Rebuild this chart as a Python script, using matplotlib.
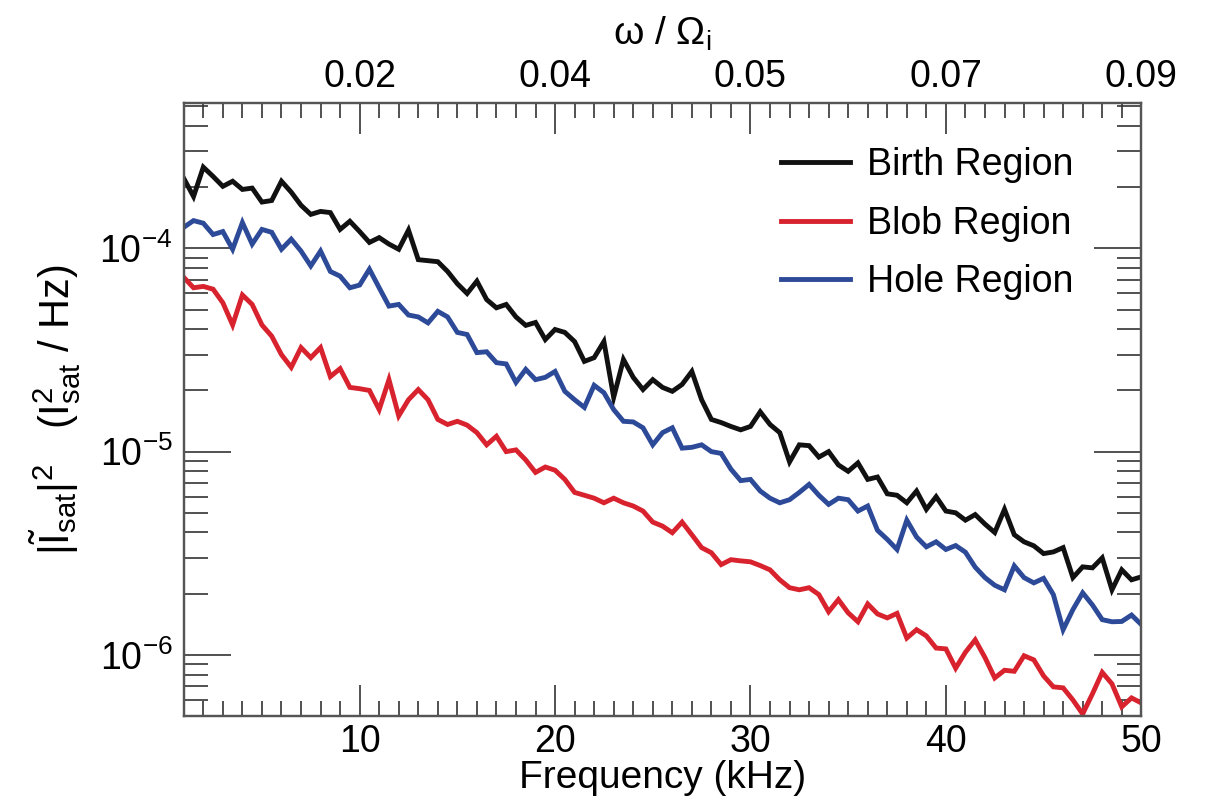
import numpy as np
import matplotlib.pyplot as plt
from matplotlib.ticker import MultipleLocator, LogLocator, NullFormatter

plt.rcParams['font.family'] = 'Liberation Sans'
plt.rcParams['mathtext.fontset'] = 'custom'
plt.rcParams['mathtext.rm'] = 'Liberation Sans'
plt.rcParams['mathtext.it'] = 'Liberation Sans:italic'
plt.rcParams['mathtext.sf'] = 'Liberation Sans'

# frequency grid (kHz), 0.5 kHz steps from 1 to 50
freq = np.arange(1.0, 50.01, 0.5)

# power spectra, in units of 1e-6 I_sat^2 / Hz
birth = [221, 180, 251, 226, 202, 214, 195, 198, 169, 172, 214, 189, 163, 147, 152, 150, 124, 136,
         121, 107, 113, 105, 99, 123, 88, 87, 86, 77, 67, 60, 69, 56, 51, 53,
         46, 41.8, 43.2, 35.6, 39.9, 38.6, 34.8, 27.8, 29, 34.8, 18.5, 28.4, 23.2, 20.2, 22.6, 20.7,
         19.8, 21.4, 24.8, 18, 14.4, 13.9, 13.3, 12.8, 13.3, 15.7, 13.6, 12.4, 8.9, 10.8, 10.7, 9.4, 10.0,
         8.6, 8.0, 8.8, 7.3, 7.5, 6.2, 6.1, 5.6, 6.4, 5.2, 6.0, 5.1, 5.0, 4.6, 4.9, 4.4, 4.0,
         5.2, 3.9, 3.6, 3.44, 3.15, 3.21, 3.37, 2.4, 2.71, 2.68, 3.0, 2.09, 2.62, 2.34, 2.42]

blob = [72, 64, 65, 63, 54, 42, 59, 53, 42, 37, 30, 26, 32.5, 29, 32.5, 23.4, 25.6, 20.7,
        20.4, 20, 16.1, 22.6, 15.0, 18, 20.2, 18, 14.4, 13.6, 14.1, 13.5, 12.4, 10.8, 11.9, 10.0,
        10.2, 9.1, 7.9, 8.4, 8.1, 7.3, 6.3, 6.1, 5.9, 5.6, 5.9, 5.6, 5.4, 5.1, 4.5, 4.3,
        3.99, 4.5, 3.9, 3.37, 3.18, 2.78, 2.94, 2.9, 2.87, 2.75, 2.62, 2.34, 2.14, 2.09, 2.14, 1.98,
        1.63, 1.87, 1.61, 1.455, 1.78, 1.59, 1.52, 1.6, 1.21, 1.33, 1.24, 1.08, 1.07, 0.86, 1.03, 1.185, 0.97, 0.77,
        0.84, 0.83, 0.99, 0.945, 0.788, 0.696, 0.688, 0.60, 0.512, 0.643, 0.82, 0.72, 0.555, 0.614, 0.58]

hole = [127, 137, 133, 117, 121, 99, 134, 105, 124, 120, 99, 111, 97, 82, 97, 77, 73, 64,
        66, 79, 64, 52, 53, 47, 46, 43, 49, 46, 38.6, 37.7, 30.7, 31, 27.4, 27,
        21.9, 25.4, 22.6, 23.2, 24.8, 19.8, 18, 16.5, 21.2, 19.5, 16.1, 14.1, 14.0, 13.1, 10.8, 12.4,
        13.1, 10.4, 10.5, 10.8, 10.0, 9.8, 8.2, 7.2, 7.3, 6.4, 5.9, 5.6, 5.8, 6.3, 6.9, 6.1, 5.5,
        5.9, 5.8, 5.1, 5.4, 4.1, 3.7, 3.3, 4.6, 3.8, 3.4, 3.6, 3.3, 3.45, 3.2, 2.7, 2.4, 2.2,
        2.09, 2.74, 2.4, 2.26, 2.38, 1.98, 1.33, 1.67, 2.02, 1.76, 1.49, 1.455, 1.46, 1.57, 1.41]

series = [('Birth Region', birth, '#111111'),
          ('Blob Region', blob, '#d8232f'),
          ('Hole Region', hole, '#2d4a98')]

freq_ticks = [10, 20, 30, 40, 50]
omega_labels = ['0.02', '0.04', '0.05', '0.07', '0.09']

fig = plt.figure(figsize=(12.09, 8.10), dpi=100)
ax = fig.add_axes([0.152, 0.116, 0.792, 0.757])

for name, vals, col in series:
    ax.plot(freq, np.array(vals) * 1e-6, color=col, lw=3.5, label=name,
            solid_joinstyle='miter')

ax.set_yscale('log')
ax.set_xlim(1, 50)
ax.set_ylim(5e-7, 5.2e-4)

ax.set_xticks(freq_ticks)
ax.xaxis.set_minor_locator(MultipleLocator(1))
ax.yaxis.set_major_locator(LogLocator(base=10))
ax.yaxis.set_minor_locator(LogLocator(base=10, subs=np.arange(2, 10)))
ax.yaxis.set_minor_formatter(NullFormatter())

tick_col = '#333333'
ax.tick_params(axis='x', which='major', direction='in', length=22, width=1.2,
               color=tick_col, labelsize=27, top=False, pad=6)
ax.tick_params(axis='x', which='minor', direction='in', length=11, width=1.2,
               color=tick_col, top=False)
ax.tick_params(axis='y', which='major', direction='in', length=34, width=1.2,
               color=tick_col, labelsize=27, right=True, pad=8)
ax.tick_params(axis='y', which='minor', direction='in', length=17, width=1.2,
               color=tick_col, right=True)

for sp in ax.spines.values():
    sp.set_color('#555555')
    sp.set_linewidth(1.6)

ax.set_xlabel('Frequency (kHz)', fontsize=28, labelpad=0)
ax.set_ylabel(r'$|\tilde{\mathrm{I}}_{\mathrm{sat}}|^{2}$   $(\mathrm{I}^{2}_{\mathrm{sat}}$ / Hz)',
              fontsize=30, labelpad=12)

# top axis: normalised frequency
ax2 = ax.twiny()
ax2.set_xlim(ax.get_xlim())
ax2.set_xticks(freq_ticks)
ax2.set_xticklabels(omega_labels)
ax2.xaxis.set_minor_locator(MultipleLocator(1))
ax2.tick_params(axis='x', which='major', direction='in', length=22, width=1.2,
                color=tick_col, labelsize=27, pad=6)
ax2.tick_params(axis='x', which='minor', direction='in', length=11, width=1.2,
                color=tick_col)
for sp in ax2.spines.values():
    sp.set_color('#555555')
    sp.set_linewidth(1.6)
ax2.set_xlabel(r'ω / Ω$_{\mathrm{i}}$', fontsize=28, labelpad=10)

leg = ax.legend(loc='upper right', bbox_to_anchor=(0.945, 0.952), frameon=False,
                fontsize=27, handlelength=1.85, handletextpad=0.45,
                labelspacing=0.6, borderaxespad=0.0)
for line in leg.get_lines():
    line.set_linewidth(3.5)

fig.savefig('out.png', dpi=100)
